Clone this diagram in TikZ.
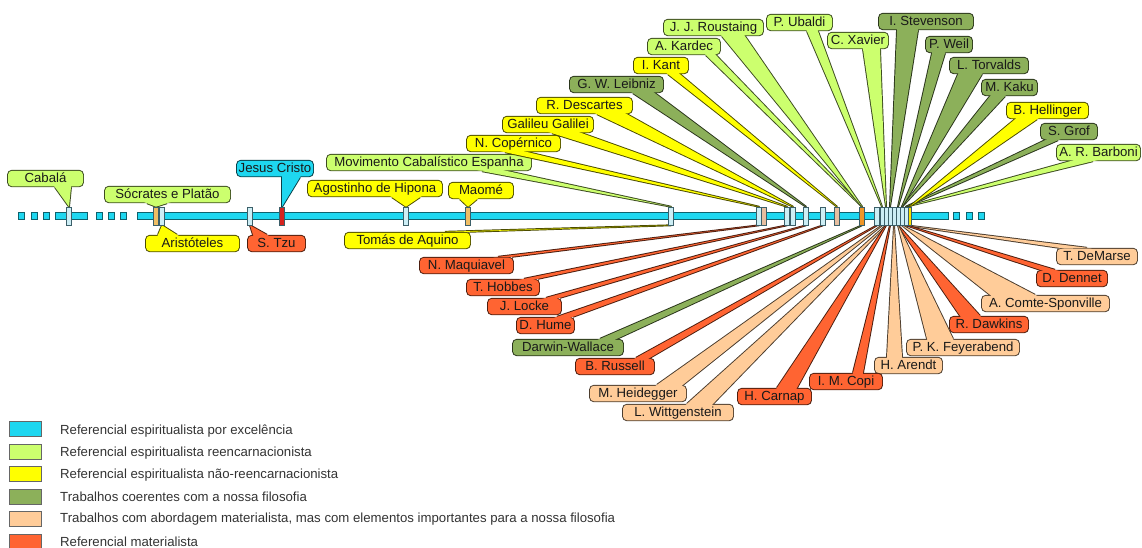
\documentclass[tikz,border=0pt]{standalone}
\usepackage{fontspec}
\setmainfont{Liberation Sans}
\usetikzlibrary{calc}
\definecolor{cy}{RGB}{30,215,240}
\definecolor{lg}{RGB}{204,255,110}
\definecolor{ye}{RGB}{255,255,0}
\definecolor{dg}{RGB}{140,176,90}
\definecolor{pe}{RGB}{255,204,153}
\definecolor{rd}{RGB}{255,100,50}
\definecolor{tlb}{RGB}{205,238,245}
\definecolor{ttan}{RGB}{230,190,160}
\definecolor{tora}{RGB}{240,150,40}
\definecolor{tred}{RGB}{215,35,30}
\definecolor{tyel}{RGB}{250,225,0}
\definecolor{ttano}{RGB}{240,190,100}
\definecolor{tedge}{RGB}{60,95,105}
\pgfdeclarelayer{front}
\pgfsetlayers{main,front}
\tikzset{
  lblbox/.style={rectangle, rounded corners=4pt, inner sep=0pt, minimum height=15.5pt,
    text height=9.6pt, text depth=2.6pt,
    font=\fontsize{13.2}{15}\selectfont, text=black!90},
  tickmark/.style={rectangle, inner sep=0pt, minimum width=5pt, minimum height=18pt,
    draw=tedge, line width=0.6pt},
  legsq/.style={rectangle, inner sep=0pt, minimum width=32pt, minimum height=15pt,
    draw=black!60, line width=0.6pt},
  legtxt/.style={anchor=west, inner sep=0pt, font=\fontsize{13.2}{15}\selectfont, text=black!80},
  barpart/.style={fill=cy, draw=cy!45!black, line width=0.5pt}
}
% upper callout: name, colour, x1, x2, ytop, text, base a, base b, tick
\newcommand\callU[9]{%
  \node[lblbox, fill=#2, draw=#2!30!black, line width=1.9pt, minimum width={#4-#3}] (#1) at ({(#3+#4)/2},{#5+7.5}) {};
  \coordinate (#1a) at (#7,0 |- #1.south);
  \coordinate (#1b) at (#8,0 |- #1.south);
  \draw[draw=#2!30!black, line width=1.9pt, line join=round] (#1a) -- (#9.north) -- (#1b);
  \fill[#2] ($(#1a)!-5pt!(#9.north)$) -- (#9.north) -- ($(#1b)!-5pt!(#9.north)$) -- cycle;
  \node[lblbox, fill=#2, minimum width={#4-#3}] (#1t) at (#1.center) {#6};
}
% lower callout
\newcommand\callD[9]{%
  \node[lblbox, fill=#2, draw=#2!30!black, line width=1.9pt, minimum width={#4-#3}] (#1) at ({(#3+#4)/2},{#5+7.5}) {};
  \coordinate (#1a) at (#7,0 |- #1.north);
  \coordinate (#1b) at (#8,0 |- #1.north);
  \draw[draw=#2!30!black, line width=1.9pt, line join=round] (#1a) -- (#9.south) -- (#1b);
  \fill[#2] ($(#1a)!-5pt!(#9.south)$) -- (#9.south) -- ($(#1b)!-5pt!(#9.south)$) -- cycle;
  \node[lblbox, fill=#2, minimum width={#4-#3}] (#1t) at (#1.center) {#6};
}
\begin{document}
\begin{tikzpicture}[x=1pt, y=-1pt]
\useasboundingbox (0,0) rectangle (1142,547);
\begin{pgfonlayer}{front}
  % timeline bar
  \foreach \xa in {18,31,43,96,108,120,953,966,978}
    \draw[barpart] (\xa,212.5) rectangle ++(6.5,6.5);
  \draw[barpart] (55,212.5) rectangle (87,219);
  \draw[barpart] (137,212.5) rectangle (948,219);
  % ticks
  \node[tickmark, fill=tlb] (t69) at (69,216) {};
  \node[tickmark, fill=ttano] (t156) at (156,216) {};
  \node[tickmark, fill=tlb] (t162) at (162,216) {};
  \node[tickmark, fill=tlb] (t250) at (250,216) {};
  \node[tickmark, fill=tred] (t282) at (282,216) {};
  \node[tickmark, fill=tlb] (t406) at (406,216) {};
  \node[tickmark, fill=ttano] (t468) at (468,216) {};
  \node[tickmark, fill=tlb] (t671) at (671,216) {};
  \node[tickmark, fill=tlb] (t759) at (759,216) {};
  \node[tickmark, fill=ttan] (t764) at (764,216) {};
  \node[tickmark, fill=tlb] (t787) at (787,216) {};
  \node[tickmark, fill=tlb] (t793) at (793,216) {};
  \node[tickmark, fill=tlb] (t806) at (806,216) {};
  \node[tickmark, fill=tlb] (t823) at (823,216) {};
  \node[tickmark, fill=ttan] (t837) at (837,216) {};
  \node[tickmark, fill=tora] (t862) at (862,216) {};
  \node[tickmark, fill=tlb] (t877) at (877,216) {};
  \foreach \xa in {882,886,890,894,898,902,906}
    \node[tickmark, fill=tlb, minimum width=4.2pt] (t\xa) at (\xa,216) {};
  \node[tickmark, fill=tyel, minimum width=3pt] (t909) at (909.5,216) {};
\end{pgfonlayer}
% upper callouts
\callU{cab}{lg}{8}{83}{171}{Cabalá}{55}{71}{t69}
\callU{soc}{lg}{105}{230}{187}{Sócrates e Platão}{147}{167}{t156}
\callU{jes}{cy}{237}{313}{161}{Jesus Cristo}{282}{300}{t282}
\callU{mov}{lg}{327}{531}{155}{Movimento Cabalístico Espanha}{482}{508}{t671}
\callU{ago}{ye}{308}{442}{181}{Agostinho de Hipona}{392}{420}{t406}
\callU{mao}{ye}{449}{513}{183}{Maomé}{460}{477}{t468}
\callU{bar}{lg}{1057}{1140}{145}{A. R. Barboni}{1070}{1093}{t906}
\callU{gro}{dg}{1041}{1097}{124}{S. Grof}{1045}{1058}{t906}
\callU{hel}{ye}{1007}{1088}{103}{B. Hellinger}{1015}{1037}{t909}
\callU{kak}{dg}{982}{1037}{80}{M. Kaku}{990}{1005}{t902}
\callU{tor}{dg}{950}{1028}{58}{L. Torvalds}{958}{982}{t902}
\callU{wei}{dg}{926}{972}{37}{P. Weil}{932}{945}{t898}
\callU{cop}{ye}{467}{560}{136}{N. Copérnico}{505}{528}{t759}
\callU{gal}{ye}{503}{593}{117}{Galileu Galilei}{552}{582}{t787}
\callU{des}{ye}{537}{632}{98}{R. Descartes}{597}{627}{t793}
\callU{lei}{dg}{570}{663}{77}{G. W. Leibniz}{633}{655}{t806}
\callU{kan}{ye}{634}{688}{58}{I. Kant}{668}{680}{t837}
\callU{kar}{lg}{648}{720}{39}{A. Kardec}{706}{716}{t862}
\callU{rou}{lg}{664}{763}{20}{J. J. Roustaing}{722}{745}{t862}
\callU{uba}{lg}{767}{832}{15}{P. Ubaldi}{807}{818}{t882}
\callU{xav}{lg}{828}{888}{33}{C. Xavier}{863}{880}{t886}
\callU{ste}{dg}{879}{973}{14}{I. Stevenson}{897}{918}{t890}
% lower callouts
\callD{ari}{ye}{146}{239}{236}{Aristóteles}{158}{177}{t162}
\callD{tzu}{rd}{248}{305}{236}{S. Tzu}{253}{267}{t250}
\callD{tom}{ye}{345}{470}{233}{Tomás de Aquino}{445}{468}{t671}
\callD{dem}{pe}{1057}{1137}{249}{T. DeMarse}{1059}{1087}{t906}
\callD{den}{rd}{1037}{1107}{271}{D. Dennet}{1040}{1055}{t906}
\callD{com}{pe}{982}{1109}{296}{A. Comte-Sponville}{990}{1035}{t902}
\callD{daw}{rd}{950}{1028}{317}{R. Dawkins}{960}{980}{t898}
\callD{fey}{pe}{907}{1019}{340}{P. K. Feyerabend}{927}{953}{t898}
\callD{are}{pe}{875}{942}{358}{H. Arendt}{887}{902}{t894}
\callD{maq}{rd}{420}{513}{258}{N. Maquiavel}{498}{512}{t759}
\callD{hob}{rd}{467}{539}{280}{T. Hobbes}{524}{538}{t787}
\callD{loc}{rd}{488}{561}{299}{J. Locke}{546}{560}{t806}
\callD{hum}{rd}{517}{574}{318}{D. Hume}{557}{573}{t823}
\callD{dar}{dg}{513}{623}{340}{Darwin-Wallace}{600}{617}{t862}
\callD{rus}{rd}{576}{654}{359}{B. Russell}{636}{650}{t877}
\callD{hei}{pe}{590}{686}{386}{M. Heidegger}{657}{683}{t882}
\callD{wit}{pe}{623}{733}{405}{L. Wittgenstein}{687}{713}{t886}
\callD{car}{rd}{738}{811}{389}{H. Carnap}{777}{797}{t886}
\callD{cpi}{rd}{810}{882}{374}{I. M. Copi}{853}{863}{t890}
% legend
\node[legsq, fill=cy] (l1) at (25,429) {};
\node[legsq, fill=lg] (l2) at (25,451.5) {};
\node[legsq, fill=ye] (l3) at (25,474) {};
\node[legsq, fill=dg] (l4) at (25,496.5) {};
\node[legsq, fill=pe] (l5) at (25,519) {};
\node[legsq, fill=rd] (l6) at (25,541.5) {};
\node[legtxt] (l1t) at (60,431) {Referencial espiritualista por excelência};
\node[legtxt] (l2t) at (60,453) {Referencial espiritualista reencarnacionista};
\node[legtxt] (l3t) at (60,475) {Referencial espiritualista não-reencarnacionista};
\node[legtxt] (l4t) at (60,497) {Trabalhos coerentes com a nossa filosofia};
\node[legtxt] (l5t) at (60,519.5) {Trabalhos com abordagem materialista, mas com elementos importantes para a nossa filosofia};
\node[legtxt] (l6t) at (60,541.5) {Referencial materialista};
\end{tikzpicture}
\end{document}
